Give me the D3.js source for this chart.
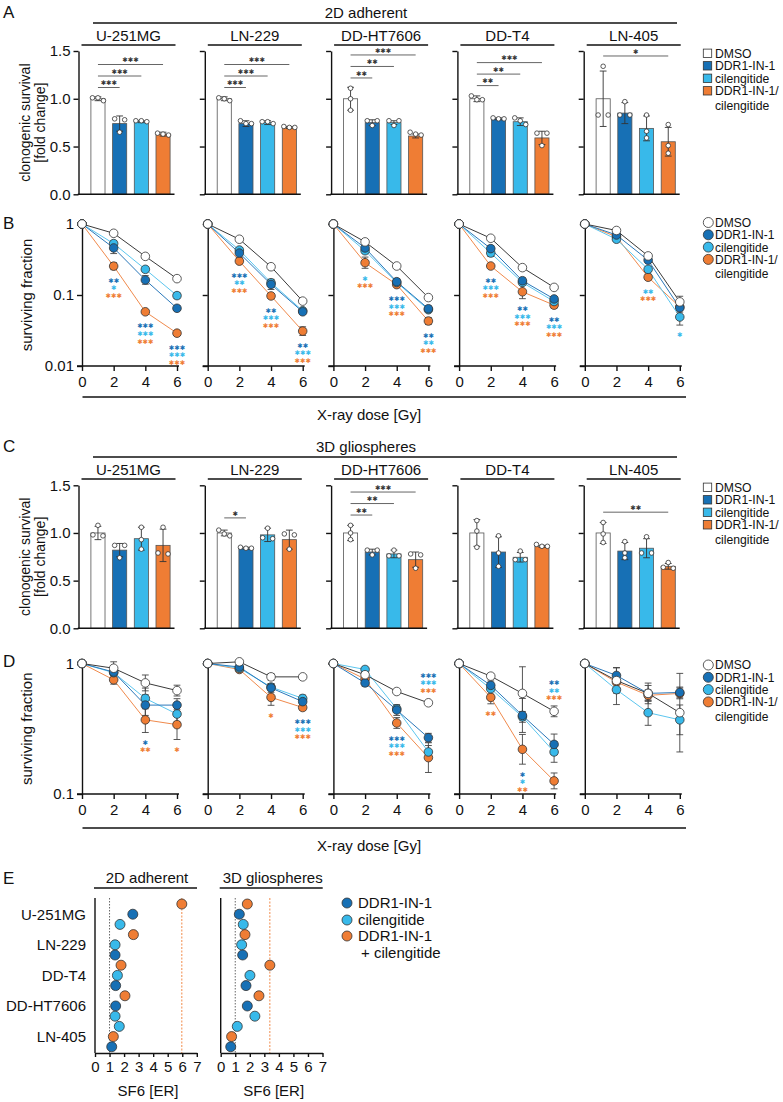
<!DOCTYPE html>
<html><head><meta charset="utf-8">
<script src="https://cdn.jsdelivr.net/npm/d3@7"></script>
<style>
html,body{margin:0;padding:0;background:#fff;}
svg{display:block;}
</style></head><body>
<svg id="chart" width="783" height="1102"></svg>
<script>
// ================= DATA =================
const cellLines = ["U-251MG","LN-229","DD-HT7606","DD-T4","LN-405"];
const treatments = ["DMSO","DDR1-IN-1","cilengitide","DDR1-IN-1/cilengitide"];
const legendRows = [["DMSO"],["DDR1-IN-1"],["cilengitide"],["DDR1-IN-1/","cilengitide"]];
const doses = [0,2,4,6];
const barTicks = [0,0.5,1.0,1.5];
const sfTicks2d = [0.01,0.1,1];
const sfTicks3d = [0.1,1];
const doseTicks = [0,2,4,6];
const erTicks = [0,1,2,3,4,5,6,7];

// ---- A: 2D adherent clonogenic survival [fold change] ----
const barMean2d = [
  [1.00,0.74,0.76,0.63],
  [1.00,0.74,0.75,0.70],
  [1.00,0.75,0.75,0.61],
  [1.00,0.79,0.76,0.59],
  [1.00,0.85,0.69,0.55]];
const barSd2d = [
  [0.02,0.08,0.01,0.02],
  [0.02,0.03,0.02,0.01],
  [0.12,0.03,0.02,0.02],
  [0.03,0.01,0.04,0.07],
  [0.29,0.11,0.13,0.15]];
const barPts2d = [
  [[0.98,1.01,1.01],[0.79,0.78,0.65],[0.76,0.77,0.77],[0.62,0.64,0.63]],
  [[0.98,1.01,1.00],[0.74,0.77,0.74],[0.74,0.76,0.76],[0.70,0.71,0.70]],
  [[1.11,1.00,0.88],[0.77,0.77,0.72],[0.77,0.77,0.72],[0.62,0.65,0.63]],
  [[0.99,1.03,0.99],[0.79,0.80,0.79],[0.80,0.77,0.73],[0.64,0.64,0.51]],
  [[1.34,0.83,0.83],[0.97,0.83,0.83],[0.83,0.66,0.59],[0.73,0.51,0.43]]];
const barSig2d = [
  [[1,"***"],[2,"***"],[3,"***"]],
  [[1,"***"],[2,"***"],[3,"***"]],
  [[1,"**"],[2,"**"],[3,"***"]],
  [[1,"**"],[2,"**"],[3,"***"]],
  [[3,"*"]]];

// ---- C: 3D gliospheres clonogenic survival [fold change] ----
const barMean3d = [
  [1.00,0.82,0.94,0.87],
  [1.00,0.84,0.98,0.93],
  [1.00,0.80,0.78,0.72],
  [1.00,0.80,0.745,0.86],
  [1.00,0.81,0.84,0.65]];
const barSd3d = [
  [0.07,0.07,0.12,0.17],
  [0.03,0.01,0.07,0.10],
  [0.08,0.03,0.04,0.08],
  [0.14,0.16,0.05,0.01],
  [0.11,0.09,0.10,0.03]];
const barPts3d = [
  [[1.08,0.98,0.97],[0.87,0.87,0.74],[1.06,0.93,0.83],[1.06,0.79,0.78]],
  [[1.03,0.99,0.97],[0.85,0.84,0.84],[1.05,0.95,0.94],[0.99,0.98,0.83]],
  [[1.08,1.00,0.93],[0.82,0.82,0.77],[0.82,0.76,0.76],[0.78,0.77,0.63]],
  [[1.13,1.02,0.85],[0.97,0.79,0.65],[0.81,0.72,0.72],[0.88,0.86,0.86]],
  [[1.11,0.99,0.90],[0.91,0.79,0.74],[0.96,0.79,0.79],[0.69,0.64,0.63]]];
const barSig3d = [
  [],
  [[1,"*"]],
  [[1,"**"],[2,"**"],[3,"***"]],
  [],
  [[3,"**"]]];

// ---- B: 2D surviving fraction vs dose (per cell line, per treatment) ----
const sf2d = [
  [[1,0.74,0.35,0.17],[1,0.46,0.163,0.065],[1,0.53,0.23,0.098],[1,0.255,0.058,0.029]],
  [[1,0.61,0.25,0.082],[1,0.39,0.141,0.058],[1,0.43,0.149,0.060],[1,0.30,0.097,0.031]],
  [[1,0.56,0.256,0.092],[1,0.46,0.154,0.064],[1,0.42,0.150,0.062],[1,0.285,0.14,0.043]],
  [[1,0.63,0.243,0.128],[1,0.45,0.159,0.088],[1,0.39,0.150,0.081],[1,0.256,0.111,0.072]],
  [[1,0.81,0.355,0.080],[1,0.70,0.31,0.066],[1,0.61,0.23,0.049],[1,0.66,0.178,0.068]]];
// multiplicative error (upper = v*f, lower = v/f)
const sfErr2d = [
  [[1,1.04,1.05,1.05],[1,1.2,1.15,1.08],[1,1.1,1.08,1.1],[1,1.12,1.06,1.08]],
  [[1,1.03,1.04,1.05],[1,1.15,1.18,1.08],[1,1.08,1.1,1.06],[1,1.08,1.08,1.15]],
  [[1,1.08,1.04,1.05],[1,1.12,1.1,1.1],[1,1.08,1.06,1.06],[1,1.2,1.06,1.12]],
  [[1,1.03,1.04,1.05],[1,1.1,1.1,1.08],[1,1.12,1.05,1.08],[1,1.05,1.25,1.1]],
  [[1,1.06,1.05,1.2],[1,1.15,1.06,1.15],[1,1.08,1.08,1.3],[1,1.05,1.08,1.12]]];
// [dose index, placement, [[treatment, label], ...]]
const sfSig2d = [
  [[1,"below",[[1,"**"],[2,"*"],[3,"***"]]],[2,"below",[[1,"***"],[2,"***"],[3,"***"]]],[3,"below",[[1,"***"],[2,"***"],[3,"***"]]]],
  [[1,"below",[[1,"***"],[2,"**"],[3,"***"]]],[2,"below",[[1,"**"],[2,"***"],[3,"***"]]],[3,"below",[[1,"**"],[2,"***"],[3,"***"]]]],
  [[1,"below",[[2,"*"],[3,"***"]]],[2,"below",[[1,"***"],[2,"***"],[3,"***"]]],[3,"below",[[1,"**"],[2,"**"],[3,"***"]]]],
  [[1,"below",[[1,"**"],[2,"***"],[3,"***"]]],[2,"below",[[1,"**"],[2,"***"],[3,"***"]]],[3,"below",[[1,"**"],[2,"***"],[3,"***"]]]],
  [[2,"below",[[2,"**"],[3,"***"]]],[3,"below",[[2,"*"]]]]];

// ---- D: 3D surviving fraction vs dose ----
const sf3d = [
  [[1,0.92,0.71,0.62],[1,0.86,0.48,0.48],[1,0.85,0.54,0.41],[1,0.75,0.37,0.34]],
  [[1,1.03,0.79,0.79],[1,0.94,0.65,0.51],[1,0.92,0.66,0.54],[1,0.90,0.55,0.46]],
  [[1,0.82,0.61,0.50],[1,0.71,0.44,0.27],[1,0.90,0.45,0.21],[1,0.76,0.35,0.19]],
  [[1,0.80,0.59,0.43],[1,0.68,0.40,0.24],[1,0.64,0.39,0.21],[1,0.55,0.22,0.126]],
  [[1,0.74,0.59,0.42],[1,0.81,0.59,0.60],[1,0.63,0.42,0.37],[1,0.72,0.57,0.59]]];
const sfErr3d = [
  [[1,1.12,1.15,1.1],[1,1.06,1.2,1.12],[1,1.08,1.2,1.15],[1,1.08,1.25,1.3]],
  [[1,1.04,1.06,1.04],[1,1.08,1.08,1.08],[1,1.04,1.06,1.06],[1,1.04,1.15,1.05]],
  [[1,1.04,1.03,1.03],[1,1.06,1.1,1.08],[1,1.04,1.06,1.12],[1,1.04,1.1,1.3]],
  [[1,1.05,1.6,1.1],[1,1.08,1.35,1.2],[1,1.1,1.1,1.2],[1,1.12,1.3,1.15]],
  [[1,1.25,1.2,2.0],[1,1.15,1.15,1.1],[1,1.3,1.25,1.3],[1,1.1,1.1,1.1]]];
const sfSig3d = [
  [[2,"below",[[1,"*"],[3,"**"]]],[3,"below",[[3,"*"]]]],
  [[2,"below",[[3,"*"]]],[3,"below",[[1,"***"],[2,"***"],[3,"***"]]]],
  [[2,"below",[[1,"***"],[2,"***"],[3,"***"]]],[3,"above",[[1,"***"],[2,"***"],[3,"***"]]]],
  [[1,"below",[[3,"**"]]],[2,"below",[[1,"*"],[2,"*"],[3,"**"]]],[3,"above",[[1,"**"],[2,"**"],[3,"***"]]]],
  []];

// ---- E: SF6 enhancement ratio ----
const erRowLabels = ["U-251MG","LN-229","DD-T4","DD-HT7606","LN-405"];
const erTreat = [3,1,2, 3,2,1, 3,2,1, 3,1,2, 2,3,1];
const er2d = [5.97,2.60,1.72, 2.64,1.38,1.38, 1.79,1.54,1.42, 2.06,1.42,1.38, 1.67,1.26,1.15];
const er3d = [1.83,1.28,1.55, 1.67,1.44,1.51, 3.38,2.01,1.74, 2.63,1.83,2.35, 1.14,0.75,0.69];
const erLegend = [["DDR1-IN-1"],["cilengitide"],["DDR1-IN-1","+ cilengitide"]];

// ================= STYLE / LAYOUT =================
const FONT = '"Liberation Sans", Arial, Helvetica, sans-serif';
const STAR_FONT = '"DejaVu Sans", sans-serif';
const STAR_FS = 6.5;
const fill = ["#ffffff","#1770b5","#38b9ea","#ef7d34"];
const lineCol = ["#3a3a3a","#2a78ba","#5cc6ef","#f08a4c"];
const starCol = ["#333","#1770b5","#38b9ea","#ef7d34"];
const INK = "#111";
const svg = d3.select("#chart").attr("font-family", FONT);

const aAxisX = i => 78.5 + 126.3 * i;
const bAxisX = i => 82 + 125.7 * i;

function txt(g, x, y, s, fs, anchor, color) {
  return g.append("text").attr("x", x).attr("y", y).attr("font-size", fs)
    .attr("text-anchor", anchor || "start").attr("fill", color || INK).text(s);
}
function hline(g, x1, x2, y, w, c) {
  g.append("line").attr("x1", x1).attr("x2", x2).attr("y1", y).attr("y2", y)
    .attr("stroke", c || INK).attr("stroke-width", w || 1.3);
}
function styleAxis(g, fs) {
  g.attr("font-family", FONT);
  g.select(".domain").attr("stroke", INK).attr("stroke-width", 1.4);
  g.selectAll(".tick line").attr("stroke", INK).attr("stroke-width", 1.4);
  g.selectAll(".tick text").attr("font-size", fs).attr("fill", INK);
}
// significance asterisks: "*" strings drawn with a heavy asterisk glyph
function starLabel(g, x, yc, s, color) {
  return g.append("text").attr("x", x).attr("y", yc + STAR_FS * 0.36)
    .attr("font-family", STAR_FONT).attr("font-size", STAR_FS).attr("text-anchor", "middle")
    .attr("fill", color).text(s.replace(/\*/g, "\u2731"));
}
function textBlock(g, x, ys, lines, fs) {
  const t = g.append("text").attr("font-size", fs).attr("fill", INK);
  lines.forEach((l, k) => t.append("tspan").attr("x", x[k]).attr("y", ys[k]).text(l));
  return t;
}

// ---------- block headers ----------
function blockHeader(letter, title, y0) {
  const g = svg.append("g");
  txt(g, 3, y0 + 6, letter, 17, "start");
  txt(g, 366, y0 + 5.5, title, 15, "middle");
  hline(g, 93, 677, y0 + 11, 1.4);
  cellLines.forEach((cl, i) => {
    const ax = aAxisX(i);
    txt(g, ax + 50, y0 + 29, cl, 15, "middle");
    hline(g, ax + 3, ax + 97, y0 + 33, 1.3);
  });
}

// ---------- bar panels ----------
function jitterOffsets(vals, yS) {
  const idx = d3.range(vals.length).sort((a, b) => vals[b] - vals[a]);
  const off = new Array(vals.length).fill(0);
  const clusters = [];
  idx.forEach(k => {
    const last = clusters[clusters.length - 1];
    if (last && Math.abs(yS(vals[k]) - yS(vals[last[last.length - 1]])) < 4.5) last.push(k);
    else clusters.push([k]);
  });
  clusters.forEach(c => {
    const n = c.length, step = n === 2 ? 10 : 5.5;
    c.forEach((k, m) => off[k] = (m - (n - 1) / 2) * step);
  });
  return off;
}

function barPanels(yS, means, sds, pts, sigs, legendTop) {
  cellLines.forEach((cl, i) => {
    const ax = aAxisX(i);
    const x = d3.scaleBand().domain(d3.range(4)).range([ax + 8.5, ax + 95.5])
      .paddingInner(0.35).paddingOuter(0.18);
    const bw = x.bandwidth();
    const g = svg.append("g");
    g.selectAll("rect.bar").data(means[i]).join("rect").attr("class", "bar")
      .attr("x", (d, j) => x(j)).attr("width", bw)
      .attr("y", d => yS(d)).attr("height", d => yS(0) - yS(d))
      .attr("fill", (d, j) => fill[j]).attr("stroke", "#555").attr("stroke-width", 0.8);
    // error bars
    means[i].forEach((m, j) => {
      const cx = x(j) + bw / 2, sd = sds[i][j];
      const y1 = yS(m + sd), y2 = yS(Math.max(0, m - sd));
      g.append("line").attr("x1", cx).attr("x2", cx).attr("y1", y1).attr("y2", y2).attr("stroke", "#333").attr("stroke-width", 0.9);
      [y1, y2].forEach(yy => g.append("line").attr("x1", cx - 3.4).attr("x2", cx + 3.4).attr("y1", yy).attr("y2", yy).attr("stroke", "#333").attr("stroke-width", 0.9));
    });
    // replicate points
    pts[i].forEach((vals, j) => {
      const cx = x(j) + bw / 2, off = jitterOffsets(vals, yS);
      vals.forEach((v, k) => g.append("circle").attr("cx", cx + off[k]).attr("cy", yS(v)).attr("r", 2.3)
        .attr("fill", "#fff").attr("stroke", "#333").attr("stroke-width", 0.8));
    });
    // axes
    const ya = g.append("g").attr("transform", `translate(${ax},0)`)
      .call(d3.axisLeft(yS).tickValues(barTicks).tickSize(5).tickSizeOuter(0).tickPadding(3)
        .tickFormat(i === 0 ? d3.format(".1f") : () => ""));
    styleAxis(ya, 15);
    hline(g, ax - 0.7, ax + 96, yS(0), 1.4);
    // significance brackets
    let top = Infinity;
    means[i].forEach((m, j) => { top = Math.min(top, yS(m + sds[i][j]), yS(d3.max(pts[i][j])) - 2.3); });
    sigs[i].forEach((s, k) => {
      const ly = top - 8 - 11.5 * k;
      const x1 = x(0) + bw / 2, x2 = x(s[0]) + bw / 2;
      hline(g, x1, x2, ly, 0.9, "#555");
      starLabel(g, (x1 + x2) / 2, ly - 4.5, s[1], "#333");
    });
  });
  // y title (two lines, one element)
  const cy = (yS(0) + yS(1.5)) / 2;
  const t = svg.append("text").attr("transform", `translate(32.5,${cy}) rotate(-90)`).attr("text-anchor", "middle")
    .attr("font-size", 14).attr("fill", INK);
  t.append("tspan").attr("x", 0).attr("y", -3).text("clonogenic survival");
  t.append("tspan").attr("x", 0).attr("y", 12).text("[fold change]");
  // legend (squares)
  const lg = svg.append("g");
  const ys = [0, 12.5, 25, 37.5, 52];
  let r = 0;
  const xs = [], yy = [], ls = [];
  legendRows.forEach((lines, j) => {
    lg.append("rect").attr("x", 703.3).attr("y", legendTop + ys[r] - 4.2).attr("width", 8.4).attr("height", 8.4)
      .attr("fill", fill[j]).attr("stroke", "#333").attr("stroke-width", 0.8);
    lines.forEach(l => { xs.push(715); yy.push(legendTop + ys[r] + 4.4); ls.push(l); r++; });
  });
  textBlock(lg, xs, yy, ls, 12.2);
}

// ---------- surviving fraction panels ----------
function sfPanels(yS, means, errs, sigs, ticks, legendTop, longLineY) {
  const r = 4.3;
  cellLines.forEach((cl, i) => {
    const ox = bAxisX(i);
    const x = d3.scaleLinear().domain([0, 6]).range([ox, ox + 95]);
    const g = svg.append("g");
    // axes
    const ya = g.append("g").attr("transform", `translate(${ox},0)`)
      .call(d3.axisLeft(yS).tickValues(ticks).tickSize(5).tickSizeOuter(0).tickPadding(3)
        .tickFormat(i === 0 ? (d => String(d)) : () => ""));
    styleAxis(ya, 15);
    const xa = g.append("g").attr("transform", `translate(0,${yS.range()[0]})`)
      .call(d3.axisBottom(x).tickValues(doseTicks).tickSize(5).tickSizeOuter(0).tickPadding(5)
        .tickFormat(d3.format("d")));
    styleAxis(xa, 15);
    xa.select(".domain").remove();
    hline(g, ox - 5, ox + 97, yS.range()[0], 1.4);
    // lines
    const line = d3.line().x((d, k) => x(doses[k])).y(d => yS(d));
    [3, 2, 1, 0].forEach(t => g.append("path").datum(means[i][t]).attr("d", line)
      .attr("fill", "none").attr("stroke", lineCol[t]).attr("stroke-width", 1));
    // error bars
    [3, 2, 1, 0].forEach(t => means[i][t].forEach((v, k) => {
      const f = errs[i][t][k];
      if (f <= 1.0001) return;
      const cx = x(doses[k]);
      const y1 = yS(v * f), y2 = yS(Math.max(yS.domain()[0], v / f));
      g.append("line").attr("x1", cx).attr("x2", cx).attr("y1", y1).attr("y2", y2).attr("stroke", "#444").attr("stroke-width", 0.9);
      [y1, y2].forEach(yy => g.append("line").attr("x1", cx - 3.4).attr("x2", cx + 3.4).attr("y1", yy).attr("y2", yy).attr("stroke", "#444").attr("stroke-width", 0.9));
    }));
    // points
    [3, 2, 1, 0].forEach(t => g.selectAll(null).data(means[i][t]).join("circle")
      .attr("cx", (d, k) => x(doses[k])).attr("cy", d => yS(d)).attr("r", r)
      .attr("fill", fill[t]).attr("stroke", "#333").attr("stroke-width", 0.8));
    // significance stars
    sigs[i].forEach(([k, place, rows]) => {
      const cx = x(doses[k]);
      if (place === "below") {
        let low = -Infinity;
        means[i].forEach((s, t) => { low = Math.max(low, yS(s[k]) + r, yS(s[k] / errs[i][t][k])); });
        rows.forEach(([t, lab], q) => starLabel(g, cx, low + 10 + 7.6 * q, lab, starCol[t]));
      } else {
        let high = Infinity;
        means[i].forEach((s, t) => { high = Math.min(high, yS(s[k]) - r, yS(s[k] * errs[i][t][k])); });
        const n = rows.length;
        rows.forEach(([t, lab], q) => starLabel(g, cx, high - 8 - 7.6 * (n - 1 - q), lab, starCol[t]));
      }
    });
  });
  // y title
  const cy = (yS.range()[0] + yS.range()[1]) / 2;
  svg.append("text").attr("transform", `translate(28,${cy}) rotate(-90)`).attr("text-anchor", "middle")
    .attr("dominant-baseline", "middle").attr("font-size", 15).attr("fill", INK).text("surviving fraction");
  // long x line + title
  hline(svg, 82.5, 686, longLineY, 1.4);
  txt(svg, 369, longLineY + 23, "X-ray dose [Gy]", 15, "middle");
  // legend (circles)
  const lg = svg.append("g");
  const ys = [0, 12.3, 24.6, 36.9, 51.5];
  let q = 0;
  const xs = [], yy = [], ls = [];
  legendRows.forEach((lines, j) => {
    lg.append("circle").attr("cx", 708.3).attr("cy", legendTop + ys[q]).attr("r", 5)
      .attr("fill", fill[j]).attr("stroke", "#333").attr("stroke-width", 0.8);
    lines.forEach(l => { xs.push(715); yy.push(legendTop + ys[q] + 4.4); ls.push(l); q++; });
  });
  textBlock(lg, xs, yy, ls, 12.0);
}

// ================= DRAW =================
// A
blockHeader("A", "2D adherent", 12);
const yA = d3.scaleLinear().domain([0, 1.5]).range([194.3, 51]);
barPanels(yA, barMean2d, barSd2d, barPts2d, barSig2d, 53.3);

// B
txt(svg, 3, 229, "B", 17, "start");
const yB = d3.scaleLog().domain([0.01, 1]).range([366, 224]);
sfPanels(yB, sf2d, sfErr2d, sfSig2d, sfTicks2d, 222.5, 397);

// C
blockHeader("C", "3D gliospheres", 446);
const yC = d3.scaleLinear().domain([0, 1.5]).range([628.3, 485.3]);
barPanels(yC, barMean3d, barSd3d, barPts3d, barSig3d, 487.3);

// D
txt(svg, 3, 667, "D", 17, "start");
const yD = d3.scaleLog().domain([0.1, 1]).range([794, 663.5]);
sfPanels(yD, sf3d, sfErr3d, sfSig3d, sfTicks3d, 665, 828);

// E
(function () {
  const g = svg.append("g");
  txt(g, 3, 883.5, "E", 17, "start");
  const yE = d3.scaleLinear().domain([-0.59, 14.61]).range([898, 1053]);
  erRowLabels.forEach((l, k) => txt(g, 86, yE(1 + 3 * k) + 5.4, l, 15, "end"));
  const panels = [[95, "2D adherent", er2d], [220.7, "3D gliospheres", er3d]];
  panels.forEach(([x0, title, vals]) => {
    const x = d3.scaleLinear().domain([0, 7]).range([x0, x0 + 101.8]);
    txt(g, x0 + 52, 882.5, title, 15, "middle");
    hline(g, x0 - 1, x0 + 102, 888, 1.3);
    // reference lines
    g.append("line").attr("x1", x(1)).attr("x2", x(1)).attr("y1", 898).attr("y2", 1053)
      .attr("stroke", "#555").attr("stroke-width", 0.9).attr("stroke-dasharray", "1.5,1.5");
    const maxCombo = d3.max(vals.filter((v, k) => erTreat[k] === 3));
    g.append("line").attr("x1", x(maxCombo)).attr("x2", x(maxCombo)).attr("y1", 898).attr("y2", 1053)
      .attr("stroke", "#ef7d34").attr("stroke-width", 0.9).attr("stroke-dasharray", "2,1.5");
    // axes
    g.append("line").attr("x1", x0).attr("x2", x0).attr("y1", 898).attr("y2", 1053).attr("stroke", INK).attr("stroke-width", 1.4);
    const xa = g.append("g").attr("transform", "translate(0,1053)")
      .call(d3.axisBottom(x).tickValues(erTicks).tickSize(4).tickSizeOuter(0).tickPadding(4).tickFormat(d3.format("d")));
    styleAxis(xa, 15);
    txt(g, x0 + 53, 1095.5, "SF6 [ER]", 15, "middle");
    // points
    vals.forEach((v, k) => g.append("circle").attr("cx", x(v)).attr("cy", yE(k)).attr("r", 5)
      .attr("fill", fill[erTreat[k]]).attr("stroke", "#333").attr("stroke-width", 0.8));
  });
  // legend
  const ly = [903, 920, 936, 953];
  let q = 0;
  const xs = [], yy = [], ls = [];
  erLegend.forEach((lines, j) => {
    g.append("circle").attr("cx", 347).attr("cy", ly[q]).attr("r", 5)
      .attr("fill", fill[j + 1]).attr("stroke", "#333").attr("stroke-width", 0.8);
    lines.forEach((l, m) => { xs.push(m === 0 ? 358 : 361); yy.push(ly[q] + 5.3); ls.push(l); q++; });
  });
  textBlock(g, xs, yy, ls, 15);
})();
</script>
</body></html>
